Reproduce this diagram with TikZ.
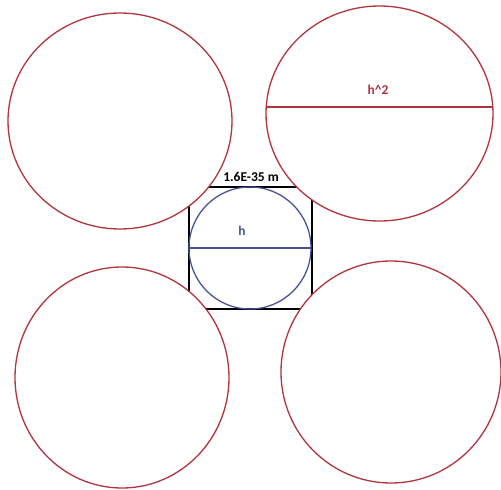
\documentclass[tikz,border=0pt]{standalone}
\usepackage{fontspec}
\setmainfont{Carlito}
\usetikzlibrary{shapes.geometric}
\definecolor{cred}{RGB}{178,52,60}
\definecolor{cblue}{RGB}{70,84,150}
\begin{document}
\begin{tikzpicture}[x=1pt,y=-1pt,
  bigcirc/.style={ellipse,draw=cred,fill=white,line width=1.3pt,inner sep=0pt,outer sep=0pt},
  lbl/.style={font=\bfseries\fontsize{13.5}{15}\selectfont,inner sep=0pt}]
\useasboundingbox (0,0) rectangle (501,490);
% central square and circle
\node[draw=black,line width=1.4pt,minimum width=123pt,minimum height=122pt,inner sep=0pt,outer sep=0pt] (sq) at (250.5,248) {};
\node[circle,draw=cblue,line width=1.3pt,minimum size=122pt,inner sep=0pt,outer sep=0pt] (c0) at (250,248) {};
\draw[cblue,line width=1.6pt] (c0.west) -- (c0.east);
% four big circles
\node[bigcirc,minimum width=224pt,minimum height=216pt] (tl) at (120,121) {};
\node[bigcirc,minimum width=227pt,minimum height=215pt] (tr) at (379.5,113.5) {};
\node[bigcirc,minimum width=214pt,minimum height=221pt] (bl) at (122,377.5) {};
\node[bigcirc,minimum width=220pt,minimum height=222pt] (br) at (391,372) {};
\draw[cred,line width=2pt] ([yshift=6.5pt]tr.west) -- ([yshift=6.5pt]tr.east);
% labels
\node[lbl,text=cred] (l2) at (378,90) {h\^{}2};
\node[lbl,text=cblue] (l1) at (242,231) {h};
\node[lbl,text=black] (l0) at (251,177) {1.6E-35 m};
\end{tikzpicture}
\end{document}
